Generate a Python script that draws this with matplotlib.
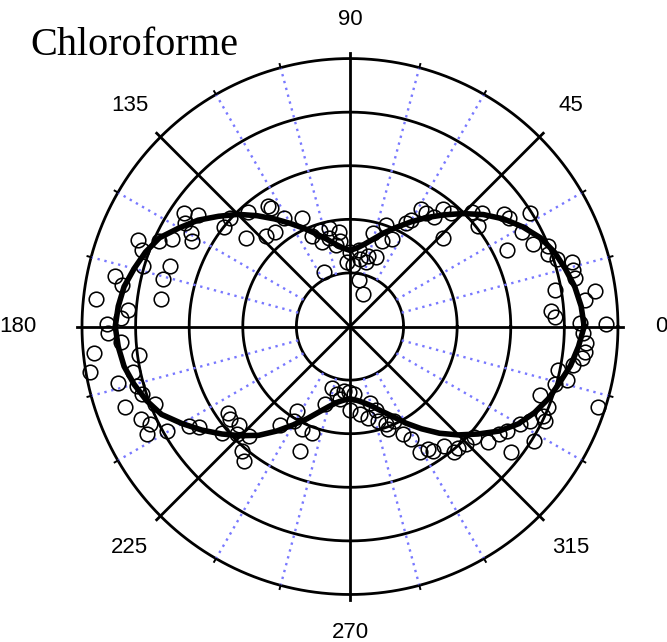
import numpy as np
import matplotlib.pyplot as plt

#%% fitted curve: radius read every 5 degrees
ang_fit = list(range(0, 360, 5))
r_fit = [4.37, 4.33, 4.26, 4.16, 4.06, 3.92, 3.72, 3.50, 3.25, 2.98,
         2.72, 2.48, 2.25, 2.04, 1.86, 1.69, 1.56, 1.47, 1.42, 1.47,
         1.56, 1.69, 1.84, 2.02, 2.22, 2.45, 2.70, 2.96, 3.20, 3.46,
         3.68, 3.92, 4.06, 4.17, 4.28, 4.34, 4.38, 4.34, 4.28, 4.17,
         4.04, 3.88, 3.62, 3.37, 3.12, 2.88, 2.65, 2.38, 2.12, 1.90,
         1.70, 1.55, 1.44, 1.38, 1.35, 1.38, 1.44, 1.53, 1.67, 1.84,
         2.08, 2.33, 2.60, 2.86, 3.12, 3.40, 3.63, 3.80, 3.94, 4.05,
         4.18, 4.28]

#%% measured points (x = r cos, y = r sin)
pts_x = [-3.09, -2.83, -3.07, -2.96, -2.94, -2.35, -2.24, -1.91, -1.94, -3.95,
         -3.88, -3.57, -3.33, -3.36, -3.49, -3.53, -3.86, -4.38, -4.26, -4.74,
         -4.15, -4.27, -4.54,
         -1.53, -1.47, -1.23, -0.89, -1.39, -1.57, -0.71, -0.56, -0.40, -0.40,
         -0.52, -0.20, -0.19, -0.26, -0.49, 0.00, -0.05, 0.06, 0.17, 0.19,
         0.30, 0.34, 0.48, 0.17, 0.25, 0.43, 0.59, 0.68, 0.79, 1.05,
         1.14, 1.33, 1.41, 1.57,
         1.73, 1.88, 1.73, 2.28, 2.47, 2.38, 2.87, 2.96, 3.35, 3.21,
         3.41, 2.93, 3.70, 3.69, 3.86, 4.14, 4.17, 4.20, 3.83, 4.38,
         4.57, 3.76, 3.83, 4.29, 4.78,
         -4.51, -4.27, -4.78, -4.86, -3.94, -4.04, -4.32, -3.98, -3.88, -3.63,
         -4.20, -3.90, -3.74, -3.78, -3.41, -3.01, -2.81, -2.38, -2.28, -2.24,
         -2.07, -2.10, -1.88, -2.01, -1.98,
         -0.34, -0.25, -0.12, -0.01, 0.07, -0.46, -0.19, 0.00, 0.19, 0.34,
         0.37, 0.49, 0.52, 0.68, 0.83, 0.71, 0.99, 1.14, 1.30, 1.45,
         1.54, -0.99, -1.05, -1.30, -0.89, -0.71, -0.94,
         4.35, 4.41, 4.38, 4.32, 4.17, 3.89, 4.04, 3.83, 4.63, 3.55,
         3.70, 3.61, 3.63, 3.35, 3.18, 3.43, 2.93, 2.78, 2.58, 2.31,
         2.16, 2.01, 1.94, 1.76, 3.01]
pts_y = [2.11, 2.08, 1.94, 1.74, 1.59, 1.86, 2.03, 2.14, 1.66, 1.61,
         1.43, 1.60, 1.63, 1.12, 0.89, 0.52, 1.12, 0.95, 0.77, 0.52,
         0.31, 0.15, 0.05,
         2.25, 2.22, 2.02, 2.03, 1.77, 1.69, 1.69, 1.79, 1.84, 1.66,
         1.57, 1.76, 1.59, 1.53, 1.01, 1.39, 1.20, 1.14, 1.42, 1.26,
         1.20, 1.32, 1.29, 0.87, 0.60, 1.74, 1.60, 1.90, 1.63, 1.94,
         1.98, 2.19, 2.11, 2.05,
         2.19, 2.11, 1.66, 2.14, 2.11, 1.88, 2.10, 2.03, 2.11, 1.76,
         1.54, 1.43, 1.51, 1.36, 1.26, 1.20, 1.05, 0.91, 0.69, 0.49,
         0.66, 0.29, 0.17, 0.06, 0.05,
         -0.13, -0.28, -0.49, -0.84, -0.53, -0.84, -1.05, -1.11, -1.25, -1.45,
         -1.51, -1.72, -1.81, -2.01, -1.95, -1.86, -1.87, -1.98, -1.62, -1.73,
         -1.84, -2.01, -2.04, -2.32, -2.50,
         -1.14, -1.25, -1.21, -1.23, -1.25, -1.45, -1.36, -1.55, -1.64, -1.70,
         -1.42, -1.55, -1.76, -1.82, -1.76, -1.92, -2.01, -2.10, -2.35, -2.29,
         -2.32, -1.58, -1.76, -1.84, -1.92, -1.98, -2.32,
         -0.13, -0.31, -0.47, -0.59, -0.71, -0.81, -0.99, -1.08, -1.50, -1.27,
         -1.50, -1.67, -1.76, -1.76, -1.82, -2.13, -1.95, -2.01, -2.15, -2.07,
         -2.19, -2.26, -2.35, -2.23, -2.34]

circles = [1, 2, 3, 4, 5]
ang_labels = [0, 45, 90, 135, 180, 225, 270, 315]

#%%
fig = plt.figure(figsize=(6.67, 6.42), dpi=100)
ax = fig.add_axes([0.1149, 0.0656, 0.8196, 0.8516], projection='polar')
ax.set_ylim(0, 5.1)
ax.axis('off')

th = np.linspace(0, 2*np.pi, 721)
for c in circles:
    ax.plot(th, np.full_like(th, c), color='k', lw=2.0, clip_on=False)

for a in range(0, 360, 15):
    t = np.radians(a)
    if a % 45 == 0:
        ax.plot([t, t], [0, 5.1], color='k', lw=2.0, clip_on=False)
    else:
        ax.plot([t, t], [1, 5], color='#7878ff', lw=1.7, ls=(0, (1, 2.0)))
        ax.plot([t, t], [5, 5.07], color='k', lw=1.4, clip_on=False)

# points
px = np.array(pts_x)
py = np.array(pts_y)
ax.plot(np.arctan2(py, px), np.hypot(px, py), 'o', mfc='none', mec='k',
        ms=10.5, mew=1.15, clip_on=False)

# curve
tf = np.radians(ang_fit + [360])
rf = r_fit + [r_fit[0]]
ax.plot(tf, rf, color='k', lw=4.0, solid_joinstyle='round')

# angle labels
lab_pos = {0: (5.7, 'left', 'center'), 45: (5.82, 'center', 'center'),
           90: (5.53, 'center', 'bottom'), 135: (5.82, 'center', 'center'),
           180: (5.84, 'right', 'center'), 225: (5.82, 'center', 'center'),
           270: (5.51, 'center', 'top'), 315: (5.82, 'center', 'center')}
for a in ang_labels:
    r, ha, va = lab_pos[a]
    ax.text(np.radians(a), r, str(a), ha=ha, va=va, fontsize=16,
            family='Liberation Sans')

fig.text(30/667, 1 - 55/642, 'Chloroforme', family='Liberation Serif',
         fontsize=29, ha='left', va='baseline')

fig.savefig('out.png', dpi=100)
